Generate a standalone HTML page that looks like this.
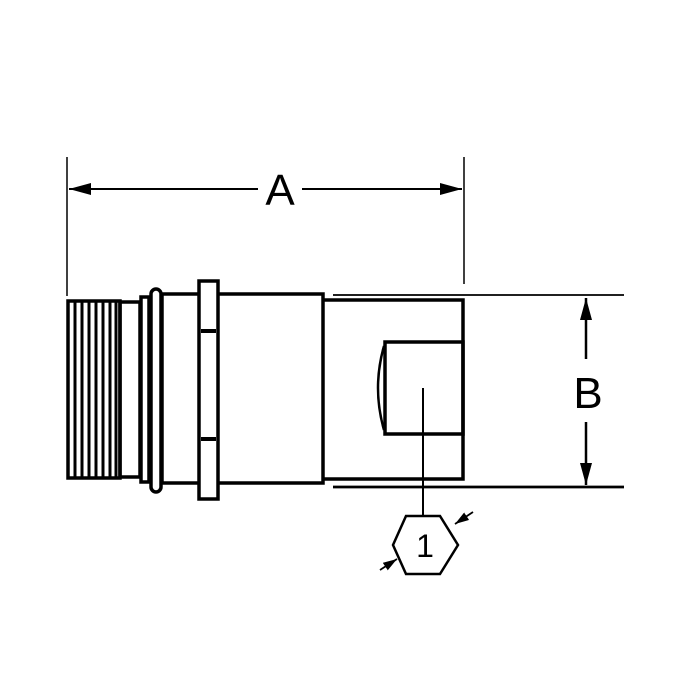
<!DOCTYPE html>
<html><head><style>body{margin:0;background:#fff}</style></head><body>
<svg width="680" height="680" viewBox="0 0 680 680" xmlns="http://www.w3.org/2000/svg">
<defs>
<marker id="ar" viewBox="0 0 10 10" refX="10" refY="5" markerWidth="22" markerHeight="12" orient="auto-start-reverse" markerUnits="userSpaceOnUse" preserveAspectRatio="none"><path d="M0,0 L10,5 L0,10 z" fill="#000"/></marker>
<marker id="ars" viewBox="0 0 10 10" refX="10" refY="5" markerWidth="14" markerHeight="9" orient="auto" markerUnits="userSpaceOnUse" preserveAspectRatio="none"><path d="M0,0 L10,5 L0,10 z" fill="#000"/></marker>
</defs>
<g stroke="#000" fill="none">
<line x1="67" y1="157" x2="67" y2="296" stroke-width="1.5"/>
<line x1="464" y1="157" x2="464" y2="284" stroke-width="1.5"/>
<line x1="69" y1="189" x2="258" y2="189" stroke-width="2" marker-start="url(#ar)"/>
<line x1="302" y1="189" x2="462" y2="189" stroke-width="2" marker-end="url(#ar)"/>
<rect x="68" y="301" width="52" height="177" stroke-width="3.5"/>
<g stroke-width="3">
<line x1="75" y1="301" x2="75" y2="478"/><line x1="82" y1="301" x2="82" y2="478"/>
<line x1="89" y1="301" x2="89" y2="478"/><line x1="96" y1="301" x2="96" y2="478"/>
<line x1="103" y1="301" x2="103" y2="478"/><line x1="110" y1="301" x2="110" y2="478"/>
<line x1="116" y1="301" x2="116" y2="478"/>
</g>
<rect x="120" y="302" width="20" height="175" stroke-width="3.5"/>
<rect x="141" y="297" width="8" height="185" stroke-width="3.5"/>
<rect x="151" y="289" width="10" height="203" rx="5" stroke-width="3.5"/>
<rect x="162" y="294" width="161" height="189" stroke-width="3.5"/>
<rect x="199" y="281" width="19" height="218" stroke-width="3.5" fill="#fff"/>
<line x1="201" y1="331" x2="216" y2="331" stroke-width="4"/>
<line x1="201" y1="439" x2="216" y2="439" stroke-width="4"/>
<line x1="333" y1="295" x2="624" y2="295" stroke-width="1.8"/>
<line x1="333" y1="487" x2="624" y2="487" stroke-width="2.8"/>
<path d="M323,300 L463,300 L463,479 L323,479" stroke-width="3.5"/>
<rect x="385" y="342" width="78" height="92" stroke-width="3.5"/>
<path d="M384,346 Q372,388 384,430" stroke-width="2.5"/>
<line x1="423" y1="388" x2="423" y2="515" stroke-width="2"/>
<polygon points="406,516 440,516 458,545 440,574 406,574 393,545" stroke-width="2.5"/>
<line x1="473" y1="512" x2="455" y2="524" stroke-width="1.8" marker-end="url(#ars)"/>
<line x1="380" y1="570" x2="397" y2="559" stroke-width="1.8" marker-end="url(#ars)"/>
<line x1="586" y1="359" x2="586" y2="298" stroke-width="2.5" marker-end="url(#ar)"/>
<line x1="586" y1="422" x2="586" y2="485" stroke-width="2.5" marker-end="url(#ar)"/>
</g>
<g font-family="Liberation Sans, sans-serif" fill="#000">
<text x="280" y="205" font-size="44" text-anchor="middle">A</text>
<text x="588" y="408" font-size="44" text-anchor="middle">B</text>
<text x="425" y="557" font-size="32" text-anchor="middle">1</text>
</g>
</svg>
</body></html>
